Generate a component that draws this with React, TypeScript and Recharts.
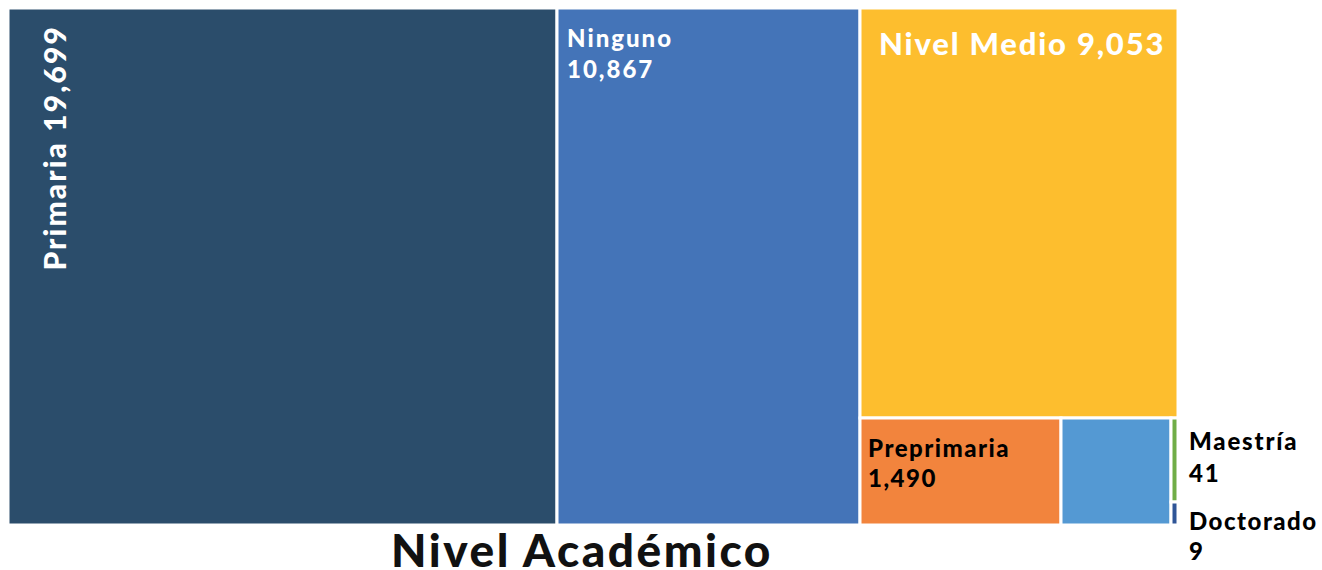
import React from "react";
import { Treemap } from "recharts";

const categories = ["Primaria", "Ninguno", "Nivel Medio", "Preprimaria", "", "Maestría", "Doctorado"];
const values = [19699, 10867, 9053, 1490, 820, 41, 9];
const colors = ["#2B4D6B", "#4474B8", "#FDBE2E", "#F2843D", "#5499D3", "#70AD47", "#2F5597"];
const title = "Nivel Académico";

const data = categories.map((name, i) => ({ name, value: values[i], fill: colors[i] }));

const FONT = "Lato, 'DejaVu Sans', sans-serif";
const fmt = (v: number) => v.toLocaleString("en-US");

const CellContent = (props: any) => {
  const { x, y, width, height, depth, index, name, value } = props;
  if (depth !== 1) return null;
  const fill = colors[index];
  const label = fmt(value);
  let text: React.ReactNode = null;
  const common = { fontFamily: FONT, fontWeight: 900, letterSpacing: 1.5 } as const;
  if (name === "Primaria") {
    text = (
      <text
        transform={`translate(${x + 58},${y + 17}) rotate(-90)`}
        textAnchor="end"
        fill="#fff"
        fontSize={30}
        {...common}
        letterSpacing={2.1}
      >
        {`${name} ${label}`}
      </text>
    );
  } else if (name === "Nivel Medio") {
    text = (
      <text x={x + 19} y={y + 47} fill="#fff" fontSize={31} {...common} letterSpacing={1.8}>
        {`${name} ${label}`}
      </text>
    );
  } else if (name === "Ninguno") {
    text = (
      <g>
        <text x={x + 10} y={y + 39} fill="#fff" fontSize={24} {...common} letterSpacing={2}>{name}</text>
        <text x={x + 10} y={y + 70} fill="#fff" fontSize={24} {...common} letterSpacing={2}>{label}</text>
      </g>
    );
  } else if (name === "Preprimaria") {
    text = (
      <g>
        <text x={x + 8} y={y + 39} fill="#000" fontSize={24} {...common}>{name}</text>
        <text x={x + 8} y={y + 69} fill="#000" fontSize={24} {...common}>{label}</text>
      </g>
    );
  } else if (name === "Maestría") {
    text = (
      <g>
        <text x={x + width + 11} y={y + 32} fill="#000" fontSize={24} {...common} letterSpacing={1.8}>{name}</text>
        <text x={x + width + 11} y={y + 64} fill="#000" fontSize={24} {...common} letterSpacing={1.8}>{label}</text>
      </g>
    );
  } else if (name === "Doctorado") {
    text = (
      <g>
        <text x={x + width + 11} y={y + 28} fill="#000" fontSize={24} {...common}>{name}</text>
        <text x={x + width + 11} y={y + 58} fill="#000" fontSize={24} {...common}>{label}</text>
      </g>
    );
  }
  return (
    <g>
      <rect x={x} y={y} width={width} height={height} fill={fill} stroke="#fff" strokeWidth={3} />
      {text}
    </g>
  );
};

export default function App() {
  return (
    <div style={{ position: "relative", width: 1322, height: 570, overflow: "hidden", boxSizing: "border-box", padding: 8 }}>
      <style>{`html,body{margin:0;padding:0;overflow:hidden}.recharts-surface{overflow:visible}`}</style>
      <Treemap
        width={1170}
        height={517}
        data={data}
        dataKey="value"
        nameKey="name"
        aspectRatio={1}
        isAnimationActive={false}
        content={<CellContent />}
      />
      <div
        style={{
          position: "absolute",
          left: 582 - 300,
          width: 600,
          top: 531,
          textAlign: "center",
          fontFamily: FONT,
          fontWeight: 900,
          fontSize: 46,
          letterSpacing: 2.5,
          lineHeight: "38px",
          color: "#111",
        }}
      >
        {title}
      </div>
    </div>
  );
}
